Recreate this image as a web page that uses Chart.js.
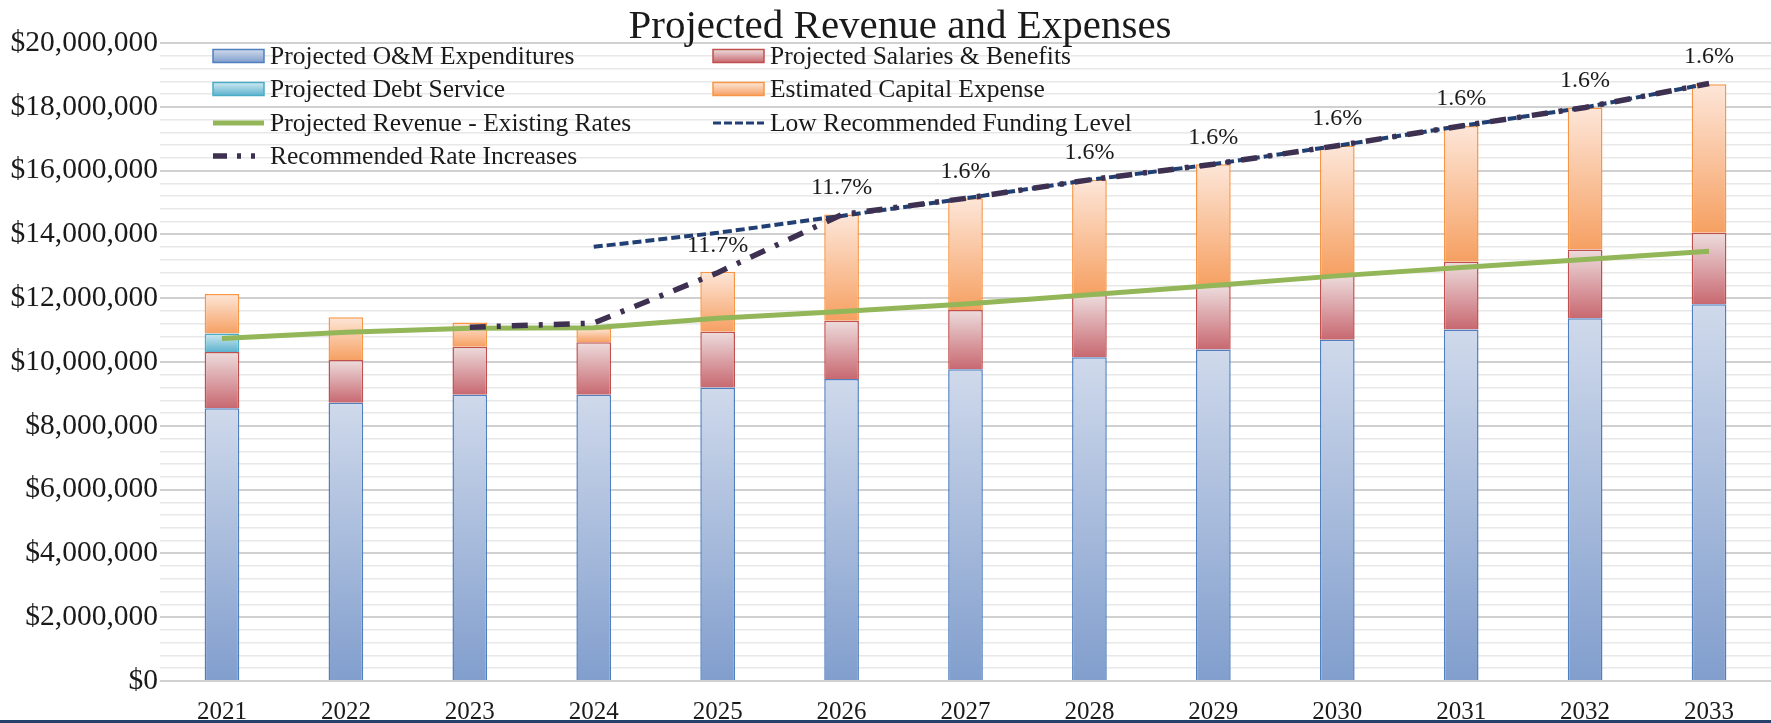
<!DOCTYPE html>
<html>
<head>
<meta charset="utf-8">
<script src="https://cdn.jsdelivr.net/npm/chart.js@4.4.1/dist/chart.umd.min.js"></script>
<style>
  html, body { margin: 0; padding: 0; background: #ffffff; }
  #wrap { position: relative; width: 1771px; height: 723px; }
</style>
</head>
<body>
<div id="wrap"><canvas id="c"></canvas></div>
<script>
// ---------- data ----------
const categories = ['2021','2022','2023','2024','2025','2026','2027','2028','2029','2030','2031','2032','2033'];
const omExpenditures   = [8550000, 8720000, 8970000, 8970000, 9200000, 9470000, 9770000, 10150000, 10390000, 10700000, 11020000, 11370000, 11810000];
const salariesBenefits = [1760000, 1340000, 1510000, 1650000, 1750000, 1820000, 1860000, 1950000, 1990000, 2020000, 2120000, 2160000, 2240000];
const debtService      = [580000, null, null, null, null, null, null, null, null, null, null, null, null];
const capitalExpense   = [1240000, 1340000, 760000, 440000, 1880000, 3330000, 3500000, 3610000, 3820000, 4060000, 4260000, 4450000, 4660000];
const revenueExisting  = [10740000, 10930000, 11060000, 11070000, 11370000, 11580000, 11820000, 12110000, 12400000, 12700000, 12960000, 13210000, 13470000];
const lowFundingLevel  = [null, null, null, 13610000, 14050000, 14580000, 15130000, 15710000, 16200000, 16780000, 17400000, 17980000, 18730000];
const recommendedRates = [null, null, 11090000, 11220000, 12800000, 14620000, 15130000, 15710000, 16200000, 16780000, 17400000, 17980000, 18730000];
const rateLabels       = [null, null, null, null, '11.7%', '11.7%', '1.6%', '1.6%', '1.6%', '1.6%', '1.6%', '1.6%', '1.6%'];
const yTickLabels = ['$0','$2,000,000','$4,000,000','$6,000,000','$8,000,000','$10,000,000','$12,000,000','$14,000,000','$16,000,000','$18,000,000','$20,000,000'];
const seriesNames = ['Projected O&M Expenditures','Projected Salaries & Benefits','Projected Debt Service','Estimated Capital Expense','Projected Revenue - Existing Rates','Low Recommended Funding Level','Recommended Rate Increases'];
const chartTitle = 'Projected Revenue and Expenses';

// ---------- styles ----------
const FONT = "'Liberation Serif', 'Times New Roman', serif";
const TEXT = '#1a1a1a';
const barStyles = [
  { top: '#cfd9eb', bottom: '#819ecd', border: '#4f7fbf' },
  { top: '#eddcdd', bottom: '#c86870', border: '#c0504d' },
  { top: '#cfe9f1', bottom: '#5cb2ce', border: '#4bacc6' },
  { top: '#fde6d8', bottom: '#f6a062', border: '#f79646' }
];
const barSeries = [omExpenditures, salariesBenefits, debtService, capitalExpense];

function gradientFill(i) {
  return (ctx) => {
    const chart = ctx.chart;
    const st = barStyles[i];
    if (ctx.type !== 'data' || !chart.chartArea || !chart.scales.y) return st.bottom;
    const j = ctx.dataIndex;
    let start = 0;
    for (let k = 0; k < i; k++) start += (barSeries[k][j] || 0);
    const end = start + (barSeries[i][j] || 0);
    const y = chart.scales.y;
    const yTop = y.getPixelForValue(end), yBot = y.getPixelForValue(start);
    if (!isFinite(yTop) || !isFinite(yBot) || yTop === yBot) return st.bottom;
    const g = chart.ctx.createLinearGradient(0, yTop, 0, yBot);
    g.addColorStop(0, st.top);
    g.addColorStop(1, st.bottom);
    return g;
  };
}

const lineStyles = [
  { color: '#93b658', width: 5, dash: [] },
  { color: '#213f72', width: 4, dash: [9, 4] },
  { color: '#3d3050', width: 5.5, dash: [16, 11, 4, 11] }
];

// ---------- plugins ----------
const titlePlugin = {
  id: 'manualTitle',
  afterDraw(chart) {
    const c = chart.ctx;
    c.save();
    c.font = "41px " + FONT;
    c.fillStyle = TEXT;
    c.textAlign = 'center';
    c.textBaseline = 'alphabetic';
    c.fillText(chartTitle, 900, 38);
    c.restore();
  }
};

const rateLabelPlugin = {
  id: 'rateLabels',
  afterDatasetsDraw(chart) {
    const meta = chart.getDatasetMeta(6);
    const c = chart.ctx;
    c.save();
    c.font = "24px " + FONT;
    c.fillStyle = TEXT;
    c.textAlign = 'center';
    c.textBaseline = 'middle';
    meta.data.forEach((pt, j) => {
      if (rateLabels[j]) c.fillText(rateLabels[j], pt.x, pt.y - 27);
    });
    c.restore();
  }
};

const legendLayout = { cols: [213, 713], rows: [56, 89, 123, 156], boxW: 51, boxH: 13, gap: 6 };
const customLegend = {
  id: 'customLegend',
  afterDraw(chart) {
    const c = chart.ctx;
    c.save();
    c.font = "25.5px " + FONT;
    c.textBaseline = 'middle';
    c.textAlign = 'left';
    seriesNames.forEach((name, idx) => {
      const col = idx % 2, row = Math.floor(idx / 2);
      const x = legendLayout.cols[col], y = legendLayout.rows[row];
      const w = legendLayout.boxW, h = legendLayout.boxH;
      if (idx < 4) {
        const st = barStyles[idx];
        const g = c.createLinearGradient(0, y - h / 2, 0, y + h / 2);
        g.addColorStop(0, st.top); g.addColorStop(1, st.bottom);
        c.fillStyle = g;
        c.fillRect(x, y - h / 2, w, h);
        c.strokeStyle = st.border; c.lineWidth = 1.5;
        c.strokeRect(x, y - h / 2, w, h);
      } else {
        const ls = lineStyles[idx - 4];
        c.beginPath();
        c.strokeStyle = ls.color;
        c.lineWidth = idx === 5 ? 3 : ls.width;
        if (idx === 5) c.setLineDash([8, 3]);
        else if (idx === 6) c.setLineDash([14, 10, 4, 10, 4, 20]);
        else c.setLineDash([]);
        c.moveTo(x, y); c.lineTo(x + w, y);
        c.stroke();
        c.setLineDash([]);
      }
      c.fillStyle = TEXT;
      c.fillText(name, x + w + legendLayout.gap, y + 1);
    });
    // bottom frame band
    c.fillStyle = '#25406a';
    c.fillRect(0, chart.height - 3, chart.width, 3);
    c.restore();
  }
};

// ---------- chart ----------
const datasets = [];
barSeries.forEach((arr, i) => {
  datasets.push({
    type: 'bar', label: seriesNames[i], data: arr, stack: 'costs', order: 10 + i,
    backgroundColor: gradientFill(i), borderColor: barStyles[i].border, borderWidth: 1.5,
    barPercentage: 0.28, categoryPercentage: 1.0
  });
});
[revenueExisting, lowFundingLevel, recommendedRates].forEach((arr, k) => {
  const ls = lineStyles[k];
  datasets.push({
    type: 'line', label: seriesNames[4 + k], data: arr, stack: 'line' + k, order: 3 - k,
    borderColor: ls.color, borderWidth: ls.width, borderDash: ls.dash, pointRadius: 0,
    tension: 0, fill: false, borderCapStyle: 'butt', spanGaps: false
  });
});

new Chart(document.getElementById('c'), {
  data: { labels: categories, datasets },
  options: {
    responsive: true, maintainAspectRatio: false, animation: false, devicePixelRatio: 1,
    layout: { padding: { left: 0, right: 0, top: 43, bottom: 0 } },
    plugins: {
      legend: { display: false },
      tooltip: { enabled: false },
      title: { display: false }
    },
    scales: {
      x: {
        stacked: true, offset: true,
        afterFit: (scale) => { scale.height = 42; },
        grid: { display: false, drawTicks: false }, border: { display: false },
        ticks: { color: TEXT, font: { family: FONT, size: 25, lineHeight: 1 }, padding: 19, maxRotation: 0 }
      },
      y: {
        stacked: true, min: 0, max: 20000000,
        afterFit: (scale) => { scale.width = 160; },
        border: { display: false },
        grid: {
          drawTicks: false,
          color: (ctx) => (ctx.tick && ctx.tick.value % 2000000 === 0) ? '#d0d0d0' : '#e8e8e8',
          lineWidth: (ctx) => (ctx.tick && ctx.tick.value % 2000000 === 0) ? 2 : 1.5
        },
        ticks: {
          stepSize: 400000, autoSkip: false, padding: 2, color: TEXT,
          font: { family: FONT, size: 29.5 },
          callback: (v) => (v % 2000000 === 0) ? yTickLabels[v / 2000000] : ''
        }
      }
    }
  },
  plugins: [titlePlugin, rateLabelPlugin, customLegend]
});
</script>
</body>
</html>
